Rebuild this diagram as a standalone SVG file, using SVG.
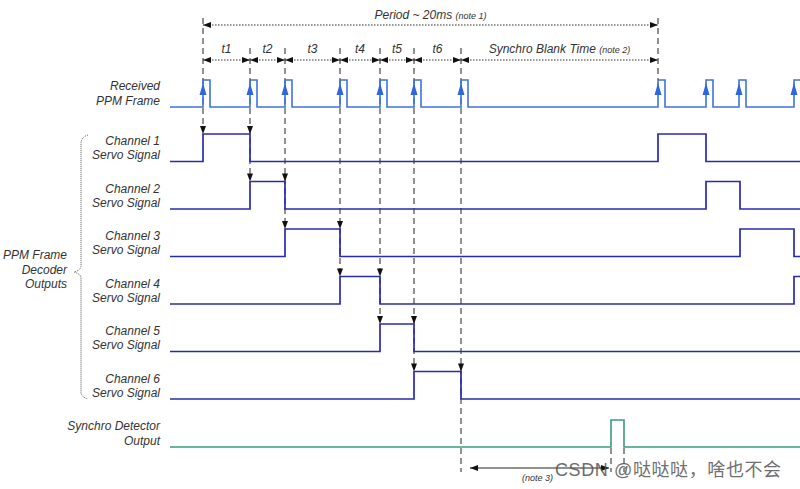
<svg xmlns="http://www.w3.org/2000/svg" width="800" height="489" viewBox="0 0 800 489">
<defs>
<style>
text{font-family:"Liberation Sans",Arial,"Noto Sans CJK SC",sans-serif;font-style:italic;fill:#333;font-size:12px}
.lbl{text-anchor:end}
.note{font-size:9px}
.ppm{fill:none;stroke:#3f73dc;stroke-width:1.6}
.ch{fill:none;stroke:#2a2ab0;stroke-width:1.7}
.syn{fill:none;stroke:#3a9a7c;stroke-width:1.6}
.dash{stroke:#222;stroke-width:1;stroke-dasharray:6 4;fill:none}
.dot{stroke:#333;stroke-width:1;stroke-dasharray:1.5 1.5;fill:none}
.solid{stroke:#222;stroke-width:1;fill:none}
.brace{stroke:#555;stroke-width:1;stroke-dasharray:1 1;fill:none}
.down{fill:#111}
.up{fill:#2f66dc}
</style>
<marker id="ah" viewBox="0 0 8 6" refX="8" refY="3" markerWidth="8" markerHeight="6" markerUnits="userSpaceOnUse" orient="auto-start-reverse">
<path d="M0,0 L8,3 L0,6 z" fill="#111"/>
</marker>
</defs>

<g id="labels">
<text class="lbl" x="160" y="90">Received</text>
<text class="lbl" x="160" y="105">PPM Frame</text>
<text class="lbl" x="160" y="145">Channel 1</text>
<text class="lbl" x="160" y="159">Servo Signal</text>
<text class="lbl" x="160" y="192.5">Channel 2</text>
<text class="lbl" x="160" y="206.5">Servo Signal</text>
<text class="lbl" x="160" y="240">Channel 3</text>
<text class="lbl" x="160" y="254">Servo Signal</text>
<text class="lbl" x="160" y="287.5">Channel 4</text>
<text class="lbl" x="160" y="301.5">Servo Signal</text>
<text class="lbl" x="160" y="335">Channel 5</text>
<text class="lbl" x="160" y="349">Servo Signal</text>
<text class="lbl" x="160" y="382.5">Channel 6</text>
<text class="lbl" x="160" y="396.5">Servo Signal</text>
<text class="lbl" x="160" y="430">Synchro Detector</text>
<text class="lbl" x="160" y="444.5">Output</text>
<text class="lbl" x="67" y="259">PPM Frame</text>
<text class="lbl" x="67" y="274">Decoder</text>
<text class="lbl" x="67" y="288">Outputs</text>
</g>

<g id="brace">
<path class="brace" d="M88,135 Q81,137 81,144 V266 Q81,270 74,272 Q81,274 81,278 V392 Q81,397 88,399"/>
</g>

<g id="timing-labels">
<text x="430.5" y="19" text-anchor="middle">Period ~ 20ms <tspan class="note">(note 1)</tspan></text>
<text x="226.5" y="53" text-anchor="middle">t1</text>
<text x="267.5" y="53" text-anchor="middle">t2</text>
<text x="312.5" y="53" text-anchor="middle">t3</text>
<text x="360" y="53" text-anchor="middle">t4</text>
<text x="397" y="53" text-anchor="middle">t5</text>
<text x="437.5" y="53" text-anchor="middle">t6</text>
<text x="559.5" y="53" text-anchor="middle">Synchro Blank Time <tspan class="note">(note 2)</tspan></text>
<text class="note" x="522" y="481">(note 3)</text>
</g>

<g id="connectors">
<line class="dot" x1="203" y1="25" x2="658" y2="25" marker-start="url(#ah)" marker-end="url(#ah)"/>
<line class="dot" x1="203" y1="60" x2="250" y2="60" marker-start="url(#ah)" marker-end="url(#ah)"/>
<line class="dot" x1="250" y1="60" x2="285" y2="60" marker-start="url(#ah)" marker-end="url(#ah)"/>
<line class="dot" x1="285" y1="60" x2="340" y2="60" marker-start="url(#ah)" marker-end="url(#ah)"/>
<line class="dot" x1="340" y1="60" x2="380" y2="60" marker-start="url(#ah)" marker-end="url(#ah)"/>
<line class="dot" x1="380" y1="60" x2="414" y2="60" marker-start="url(#ah)" marker-end="url(#ah)"/>
<line class="dot" x1="414" y1="60" x2="461" y2="60" marker-start="url(#ah)" marker-end="url(#ah)"/>
<line class="dot" x1="461" y1="60" x2="658" y2="60" marker-start="url(#ah)" marker-end="url(#ah)"/>

<line class="dash" x1="203" y1="18" x2="203" y2="130"/>
<line class="dash" x1="250" y1="48" x2="250" y2="178"/>
<line class="dash" x1="285" y1="48" x2="285" y2="226"/>
<line class="dash" x1="340" y1="48" x2="340" y2="273"/>
<line class="dash" x1="380" y1="48" x2="380" y2="321"/>
<line class="dash" x1="414" y1="48" x2="414" y2="368"/>
<line class="dash" x1="461" y1="48" x2="461" y2="472"/>
<line class="dash" x1="658" y1="18" x2="658" y2="80"/>
<line class="dash" x1="611" y1="448" x2="611" y2="472"/>
<line class="dash" x1="624" y1="448" x2="624" y2="472"/>

<g class="down">
<polygon points="200,126 206,126 203,134"/>
<polygon points="247,126 253,126 250,134"/>
<polygon points="247,173.5 253,173.5 250,181.5"/>
<polygon points="282,173.5 288,173.5 285,181.5"/>
<polygon points="282,221 288,221 285,229"/>
<polygon points="337,221 343,221 340,229"/>
<polygon points="337,268.5 343,268.5 340,276.5"/>
<polygon points="377,268.5 383,268.5 380,276.5"/>
<polygon points="377,316 383,316 380,324"/>
<polygon points="411,316 417,316 414,324"/>
<polygon points="411,363.5 417,363.5 414,371.5"/>
<polygon points="458,363.5 464,363.5 461,371.5"/>
</g>

<line class="solid" x1="470" y1="468" x2="609" y2="468" marker-start="url(#ah)" marker-end="url(#ah)"/>
</g>

<g id="ppm-frame">
<path class="ppm" d="M170,107 H203 V80 H210 V107 H250 V80 H257 V107 H285 V80 H292 V107 H340 V80 H347 V107 H380 V80 H387 V107 H414 V80 H421 V107 H461 V80 H468 V107 H658 V80 H665 V107 H706 V80 H713 V107 H739 V80 H746 V107 H794 V80 H801"/>
<g class="up">
<polygon points="199.5,95 206.5,95 203,83"/>
<polygon points="246.5,95 253.5,95 250,83"/>
<polygon points="281.5,95 288.5,95 285,83"/>
<polygon points="336.5,95 343.5,95 340,83"/>
<polygon points="376.5,95 383.5,95 380,83"/>
<polygon points="410.5,95 417.5,95 414,83"/>
<polygon points="457.5,95 464.5,95 461,83"/>
<polygon points="654.5,95 661.5,95 658,83"/>
<polygon points="702.5,95 709.5,95 706,83"/>
<polygon points="735.5,95 742.5,95 739,83"/>
<polygon points="790.5,95 797.5,95 794,83"/>
</g>
</g>

<g id="channel1"><path class="ch" d="M170,161.5 H203 V134 H250 V161.5 H658 V134 H706 V161.5 H800"/></g>
<g id="channel2"><path class="ch" d="M170,209 H250 V181.5 H285 V209 H706 V181.5 H740 V209 H800"/></g>
<g id="channel3"><path class="ch" d="M170,256.5 H285 V229 H340 V256.5 H740 V229 H794 V256.5 H800"/></g>
<g id="channel4"><path class="ch" d="M170,304 H340 V276.5 H380 V304 H794 V276.5 H801"/></g>
<g id="channel5"><path class="ch" d="M170,351.5 H380 V324 H414 V351.5 H800"/></g>
<g id="channel6"><path class="ch" d="M170,399 H414 V371.5 H461 V399 H800"/></g>
<g id="synchro"><path class="syn" d="M170,447 H611 V420 H624 V447 H800"/></g>

<g id="watermark">
<text x="555" y="476" style="font-style:normal;font-size:18px;letter-spacing:0.6px;fill:#555;opacity:0.85">CSDN @哒哒哒，啥也不会</text>
</g>
</svg>
